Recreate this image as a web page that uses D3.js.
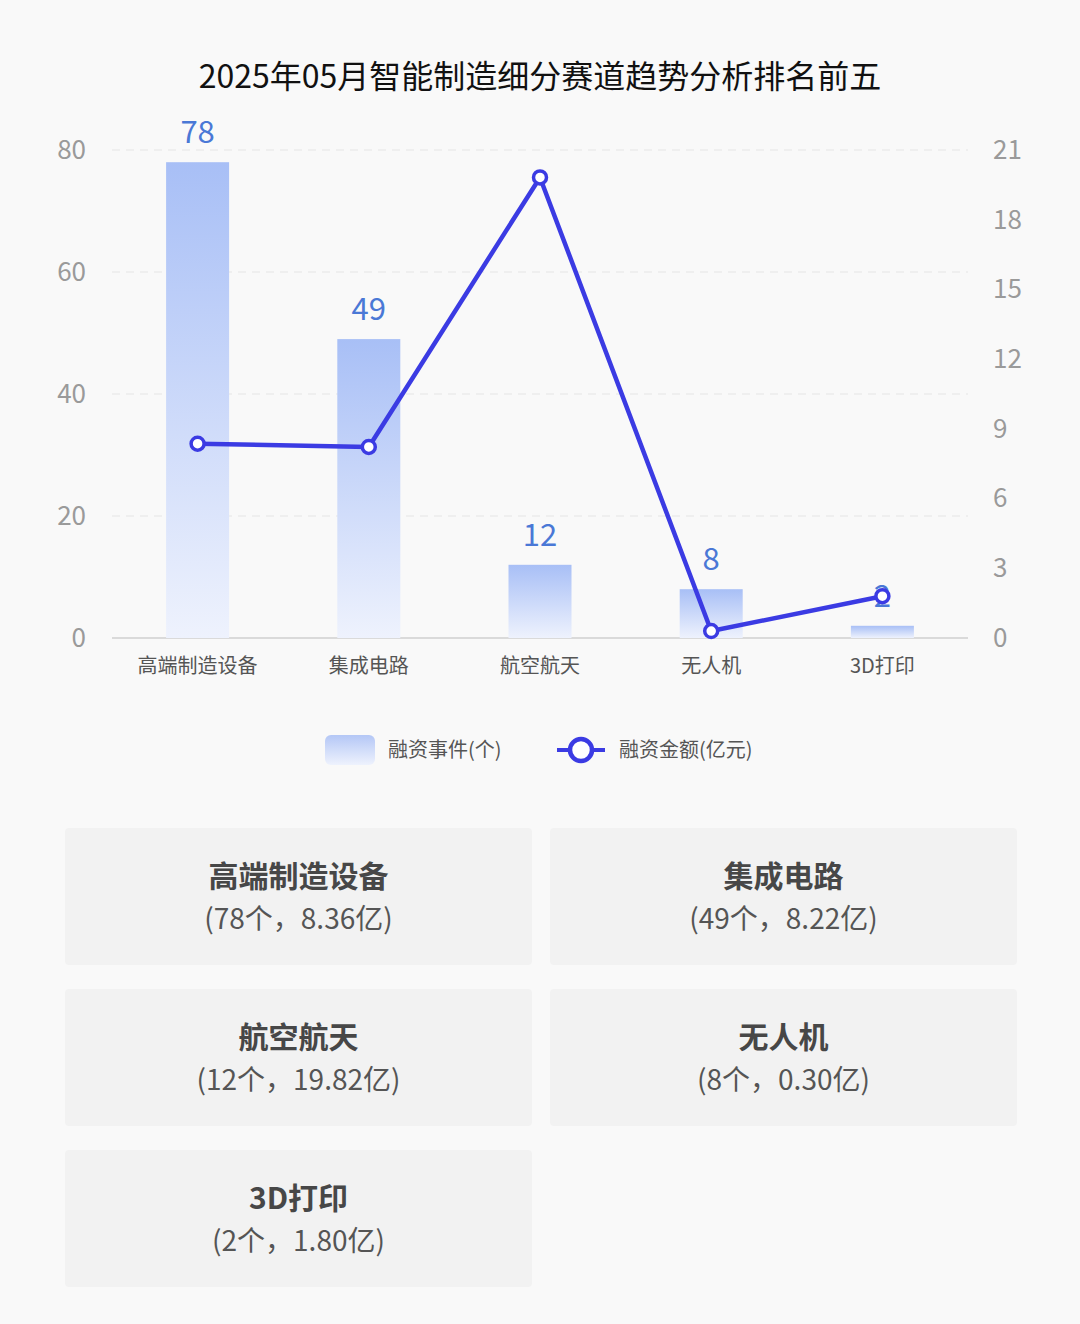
<!DOCTYPE html>
<html><head><meta charset="utf-8">
<script src="https://cdn.jsdelivr.net/npm/d3@7"></script>
<style>
html,body{margin:0;padding:0;background:#f9f9f9;}
svg{display:block;font-family:"Noto Sans CJK SC","Noto Sans",sans-serif;}
</style></head>
<body>
<svg id="c" width="1080" height="1324"></svg>
<script>
const title = "2025年05月智能制造细分赛道趋势分析排名前五";
const categories = ["高端制造设备","集成电路","航空航天","无人机","3D打印"];
const events = [78, 49, 12, 8, 2];
const amounts = [8.36, 8.22, 19.82, 0.30, 1.80];
const amountLabels = ["8.36","8.22","19.82","0.30","1.80"];
const leftTicks = [0,20,40,60,80];
const rightTicks = [0,3,6,9,12,15,18,21];
const legendLabels = ["融资事件(个)","融资金额(亿元)"];

const svg = d3.select("#c");
const W = 1080;
const plot = {l:112, r:968, t:150, b:638};

svg.append("rect").attr("width",1080).attr("height",1324).attr("fill","#f9f9f9");

const defs = svg.append("defs");
const g1 = defs.append("linearGradient").attr("id","barG").attr("x1",0).attr("y1",0).attr("x2",0).attr("y2",1);
g1.append("stop").attr("offset","0%").attr("stop-color","#a8bff6");
g1.append("stop").attr("offset","100%").attr("stop-color","#eef2fd");
const g2 = defs.append("linearGradient").attr("id","legG").attr("x1",0).attr("y1",0).attr("x2",0).attr("y2",1);
g2.append("stop").attr("offset","0%").attr("stop-color","#b4c7f6");
g2.append("stop").attr("offset","100%").attr("stop-color","#eef2fd");

svg.append("text").attr("x",W/2).attr("y",88).attr("text-anchor","middle")
  .attr("font-size",32).attr("fill","#111").text(title);

const x = d3.scaleBand().domain(categories).range([plot.l, plot.r]).paddingInner(0.632).paddingOuter(0.316);
const yL = d3.scaleLinear().domain([0,80]).range([plot.b, plot.t]);
const yR = d3.scaleLinear().domain([0,21]).range([plot.b, plot.t]);
const cx = d => x(d) + x.bandwidth()/2;

// grid
svg.append("g").selectAll("line").data(leftTicks.filter(d=>d>0)).join("line")
  .attr("x1",plot.l).attr("x2",plot.r).attr("y1",d=>yL(d)).attr("y2",d=>yL(d))
  .attr("stroke","#e6e6e6").attr("stroke-width",1.2).attr("stroke-dasharray","8,6");
svg.append("line").attr("x1",plot.l).attr("x2",plot.r).attr("y1",plot.b).attr("y2",plot.b)
  .attr("stroke","#cfcfcf").attr("stroke-width",1.5);

// left axis
const axL = svg.append("g").attr("transform",`translate(${plot.l-26},0)`)
  .call(d3.axisLeft(yL).tickValues(leftTicks).tickSize(0).tickPadding(0));
axL.select(".domain").remove();
axL.selectAll("text").attr("font-size",26).attr("fill","#9a9a9a").attr("font-family","'Noto Sans CJK SC',sans-serif");
// right axis
const axR = svg.append("g").attr("transform",`translate(${plot.r+25},0)`)
  .call(d3.axisRight(yR).tickValues(rightTicks).tickSize(0).tickPadding(0));
axR.select(".domain").remove();
axR.selectAll("text").attr("font-size",26).attr("fill","#9a9a9a").attr("font-family","'Noto Sans CJK SC',sans-serif");
// x axis
const axX = svg.append("g").attr("transform",`translate(0,${plot.b})`)
  .call(d3.axisBottom(x).tickSize(0).tickPadding(21));
axX.select(".domain").remove();
axX.selectAll("text").attr("font-size",20).attr("fill","#555").attr("font-family","'Noto Sans CJK SC',sans-serif");

// bars
svg.append("g").selectAll("rect").data(events).join("rect")
  .attr("x",(d,i)=>x(categories[i])).attr("width",x.bandwidth())
  .attr("y",d=>yL(d)).attr("height",d=>plot.b-yL(d)).attr("fill","url(#barG)");
svg.append("g").selectAll("text").data(events).join("text")
  .attr("x",(d,i)=>cx(categories[i])).attr("y",d=>yL(d)-19).attr("text-anchor","middle")
  .attr("font-size",31).attr("fill","#4a78d6").text(d=>d);

// line
const line = d3.line().x((d,i)=>cx(categories[i])).y(d=>yR(d));
svg.append("path").datum(amounts).attr("d",line).attr("fill","none")
  .attr("stroke","#3b3be3").attr("stroke-width",4.5).attr("stroke-linejoin","round");
svg.append("g").selectAll("circle").data(amounts).join("circle")
  .attr("cx",(d,i)=>cx(categories[i])).attr("cy",d=>yR(d)).attr("r",6.5)
  .attr("fill","#fff").attr("stroke","#3b3be3").attr("stroke-width",3.5);

// legend
const lg = svg.append("g");
lg.append("rect").attr("x",325).attr("y",735).attr("width",50).attr("height",30).attr("rx",6).attr("fill","url(#legG)");
lg.append("text").attr("x",388).attr("y",757).attr("font-size",20).attr("fill","#555").text(legendLabels[0]);
lg.append("line").attr("x1",557).attr("x2",605).attr("y1",750).attr("y2",750).attr("stroke","#3b3be3").attr("stroke-width",4);
lg.append("circle").attr("cx",581).attr("cy",750).attr("r",11).attr("fill","#fff").attr("stroke","#3b3be3").attr("stroke-width",4.5);
lg.append("text").attr("x",619).attr("y",757).attr("font-size",20).attr("fill","#555").text(legendLabels[1]);

// cards
const cardX = [65, 550], cardW = 467, cardH = 137;
const cardY = [828, 989, 1150];
const cards = svg.append("g").selectAll("g").data(categories).join("g")
  .attr("transform",(d,i)=>`translate(${cardX[i%2]},${cardY[Math.floor(i/2)]})`);
cards.append("rect").attr("width",cardW).attr("height",cardH).attr("rx",4).attr("fill","#f2f2f2");
cards.append("text").attr("x",cardW/2).attr("y",59).attr("text-anchor","middle")
  .attr("font-size",30).attr("font-weight","bold").attr("fill","#474747").text(d=>d);
cards.append("text").attr("x",cardW/2).attr("y",101).attr("text-anchor","middle")
  .attr("font-size",28).attr("fill","#555").attr("font-family","'Noto Sans CJK SC',sans-serif")
  .text((d,i)=>`(${events[i]}个，${amountLabels[i]}亿)`);
</script>
</body></html>
